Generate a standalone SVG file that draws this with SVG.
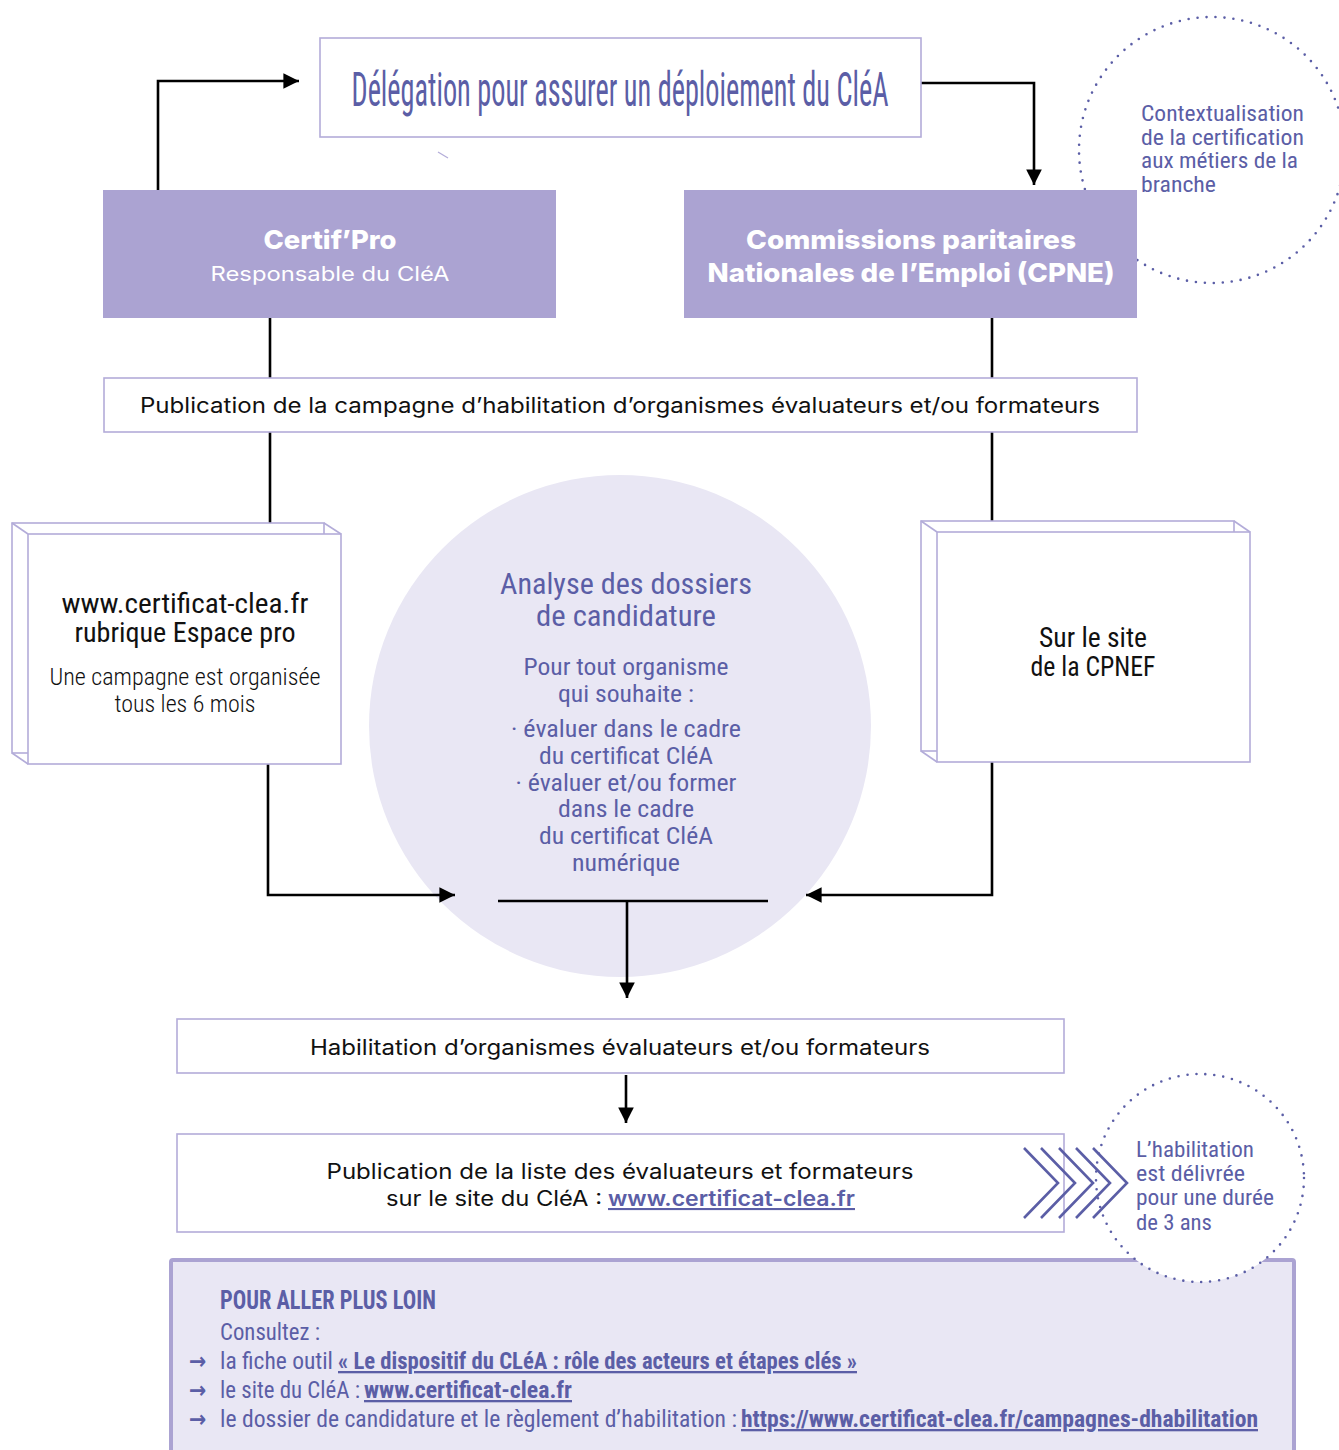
<svg xmlns="http://www.w3.org/2000/svg" width="1339" height="1450" viewBox="0 0 1339 1450">
<defs>
<style>
.cd{font-family:"Roboto Condensed","DejaVu Sans Condensed",Roboto,"Liberation Sans",sans-serif;}
.gs{font-family:Inter,"Open Sans","Liberation Sans",sans-serif;}
.pu{fill:#5b5ea6;}
.bk{fill:#111;}
.wh{fill:#fff;}
.box{fill:#fff;stroke:#b3acd9;stroke-width:1.6;}
.lav{fill:#aba3d2;}
.con{fill:none;stroke:#000;stroke-width:2.6;}
.dots{fill:#fff;stroke:#5b5ea6;stroke-width:2.6;stroke-linecap:round;stroke-dasharray:0 9;}
.chev{fill:none;stroke:#5b5ea6;stroke-width:2.6;}
</style>
<marker id="ah" viewBox="0 0 10 10" refX="10" refY="5" markerWidth="7" markerHeight="6" markerUnits="strokeWidth" orient="auto">
<path d="M0,0 L10,5 L0,10 z" fill="#000"/>
</marker>
</defs>
<rect width="1339" height="1450" fill="#fff"/>

<g id="note-contextualisation">
<circle class="dots" cx="1212" cy="150" r="133"/>
<text class="cd pu" font-size="22"><tspan x="1141" y="121" textLength="163" lengthAdjust="spacingAndGlyphs">Contextualisation</tspan><tspan x="1141" y="145" textLength="163" lengthAdjust="spacingAndGlyphs">de la certification</tspan><tspan x="1141" y="168" textLength="157" lengthAdjust="spacingAndGlyphs">aux métiers de la</tspan><tspan x="1141" y="192" textLength="75" lengthAdjust="spacingAndGlyphs">branche</tspan></text>
</g>

<g id="analyse">
<circle cx="620" cy="726" r="251" fill="#e9e7f4"/>
<g class="cd pu" text-anchor="middle">
<text x="626" y="594" font-size="30" textLength="252" lengthAdjust="spacingAndGlyphs">Analyse des dossiers</text>
<text x="626" y="626" font-size="30" textLength="180" lengthAdjust="spacingAndGlyphs">de candidature</text>
<text x="626" y="675" font-size="24.5" textLength="205" lengthAdjust="spacingAndGlyphs">Pour tout organisme</text>
<text x="626" y="702" font-size="24.5" textLength="136" lengthAdjust="spacingAndGlyphs">qui souhaite :</text>
<text x="626" y="737" font-size="24.5" textLength="230" lengthAdjust="spacingAndGlyphs">· évaluer dans le cadre</text>
<text x="626" y="764" font-size="24.5" textLength="174" lengthAdjust="spacingAndGlyphs">du certificat CléA</text>
<text x="626" y="791" font-size="24.5" textLength="221" lengthAdjust="spacingAndGlyphs">· évaluer et/ou former</text>
<text x="626" y="817" font-size="24.5" textLength="136" lengthAdjust="spacingAndGlyphs">dans le cadre</text>
<text x="626" y="844" font-size="24.5" textLength="174" lengthAdjust="spacingAndGlyphs">du certificat CléA</text>
<text x="626" y="871" font-size="24.5" textLength="108" lengthAdjust="spacingAndGlyphs">numérique</text>
</g>
</g>

<g id="connectors">
<polyline class="con" points="158,190 158,81 299,81" marker-end="url(#ah)"/>
<polyline class="con" points="921,83 1034,83 1034,185" marker-end="url(#ah)"/>
<line class="con" x1="270" y1="318" x2="270" y2="378"/>
<line class="con" x1="270" y1="432" x2="270" y2="534"/>
<line class="con" x1="992" y1="318" x2="992" y2="378"/>
<line class="con" x1="992" y1="432" x2="992" y2="532"/>
<polyline class="con" points="268,764 268,895 455,895" marker-end="url(#ah)"/>
<polyline class="con" points="992,762 992,895 806,895" marker-end="url(#ah)"/>
<line class="con" x1="498" y1="901" x2="768" y2="901"/>
<line class="con" x1="627" y1="901" x2="627" y2="998" marker-end="url(#ah)"/>
<line class="con" x1="626" y1="1075" x2="626" y2="1123" marker-end="url(#ah)"/>
<line x1="438" y1="152" x2="448" y2="158" stroke="#b3acd9" stroke-width="1.2"/>
</g>

<g id="delegation">
<rect class="box" x="320" y="38" width="601" height="99"/>
<text class="cd pu" x="620" y="106" font-size="48" text-anchor="middle" textLength="537" lengthAdjust="spacingAndGlyphs">Délégation pour assurer un déploiement du CléA</text>
</g>

<g id="certifpro">
<rect class="lav" x="103" y="190" width="453" height="128"/>
<text class="gs wh" x="330" y="249" font-size="26" font-weight="800" text-anchor="middle" textLength="133" lengthAdjust="spacingAndGlyphs">Certif’Pro</text>
<text class="gs wh" x="330" y="281" font-size="20" text-anchor="middle" textLength="239" lengthAdjust="spacingAndGlyphs">Responsable du CléA</text>
</g>

<g id="cpne">
<rect class="lav" x="684" y="190" width="453" height="128"/>
<text class="gs wh" x="911" y="249" font-size="26" font-weight="800" text-anchor="middle" textLength="330" lengthAdjust="spacingAndGlyphs">Commissions paritaires</text>
<text class="gs wh" x="911" y="282" font-size="26" font-weight="800" text-anchor="middle" textLength="407" lengthAdjust="spacingAndGlyphs">Nationales de l’Emploi (CPNE)</text>
</g>

<g id="publication-campagne">
<rect class="box" x="104" y="378" width="1033" height="54"/>
<text class="gs bk" x="620" y="413" font-size="21" text-anchor="middle" textLength="960" lengthAdjust="spacingAndGlyphs">Publication de la campagne d’habilitation d’organismes évaluateurs et/ou formateurs</text>
</g>

<g id="site-clea">
<rect class="box" x="12" y="523" width="312" height="230"/>
<rect class="box" x="28" y="534" width="313" height="230"/>
<line x1="12" y1="523" x2="28" y2="534" stroke="#b3acd9" stroke-width="1.6"/>
<line x1="324" y1="523" x2="341" y2="534" stroke="#b3acd9" stroke-width="1.6"/>
<line x1="12" y1="753" x2="28" y2="764" stroke="#b3acd9" stroke-width="1.6"/>
<g class="cd bk" text-anchor="middle">
<text x="185" y="613" font-size="27" textLength="247" lengthAdjust="spacingAndGlyphs">www.certificat-clea.fr</text>
<text x="185" y="642" font-size="27" textLength="221" lengthAdjust="spacingAndGlyphs">rubrique Espace pro</text>
<text x="185" y="685" font-size="24" font-weight="300" textLength="271" lengthAdjust="spacingAndGlyphs">Une campagne est organisée</text>
<text x="185" y="712" font-size="24" font-weight="300" textLength="141" lengthAdjust="spacingAndGlyphs">tous les 6 mois</text>
</g>
</g>

<g id="site-cpnef">
<rect class="box" x="921" y="521" width="313" height="230"/>
<rect class="box" x="937" y="532" width="313" height="230"/>
<line x1="921" y1="521" x2="937" y2="532" stroke="#b3acd9" stroke-width="1.6"/>
<line x1="1234" y1="521" x2="1250" y2="532" stroke="#b3acd9" stroke-width="1.6"/>
<line x1="921" y1="751" x2="937" y2="762" stroke="#b3acd9" stroke-width="1.6"/>
<g class="cd bk" text-anchor="middle">
<text x="1093" y="647" font-size="27" textLength="108" lengthAdjust="spacingAndGlyphs">Sur le site</text>
<text x="1093" y="676" font-size="27" textLength="125" lengthAdjust="spacingAndGlyphs">de la CPNEF</text>
</g>
</g>

<g id="habilitation">
<rect class="box" x="177" y="1019" width="887" height="54"/>
<text class="gs bk" x="620" y="1055" font-size="21" text-anchor="middle" textLength="620" lengthAdjust="spacingAndGlyphs">Habilitation d’organismes évaluateurs et/ou formateurs</text>
</g>

<g id="publication-liste">
<rect class="box" x="177" y="1134" width="887" height="98"/>
<text class="gs bk" x="620" y="1179" font-size="21" text-anchor="middle" textLength="587" lengthAdjust="spacingAndGlyphs">Publication de la liste des évaluateurs et formateurs</text>
<text class="gs bk" x="386" y="1206" font-size="21" textLength="216" lengthAdjust="spacingAndGlyphs">sur le site du CléA :</text>
<text class="gs pu" x="608" y="1206" font-size="21" font-weight="600" text-decoration="underline" textLength="247" lengthAdjust="spacingAndGlyphs">www.certificat-clea.fr</text>
</g>

<g id="plus-loin">
<rect x="171" y="1260" width="1123" height="200" fill="#e9e7f4" stroke="#aba3d2" stroke-width="4" rx="2"/>
<text class="cd pu" x="220" y="1309" font-size="26" font-weight="bold" textLength="216" lengthAdjust="spacingAndGlyphs">POUR ALLER PLUS LOIN</text>
<text class="cd pu" x="220" y="1340" font-size="23" textLength="100" lengthAdjust="spacingAndGlyphs">Consultez :</text>
<g class="cd pu" font-size="23">
<text x="189" y="1369" font-weight="bold">→</text>
<text x="220" y="1369" textLength="113" lengthAdjust="spacingAndGlyphs">la fiche outil</text>
<text x="338" y="1369" font-weight="bold" text-decoration="underline" textLength="519" lengthAdjust="spacingAndGlyphs">« Le dispositif du CLéA : rôle des acteurs et étapes clés »</text>
<text x="189" y="1398" font-weight="bold">→</text>
<text x="220" y="1398" textLength="140" lengthAdjust="spacingAndGlyphs">le site du CléA :</text>
<text x="364" y="1398" font-weight="bold" text-decoration="underline" textLength="208" lengthAdjust="spacingAndGlyphs">www.certificat-clea.fr</text>
<text x="189" y="1427" font-weight="bold">→</text>
<text x="220" y="1427" textLength="517" lengthAdjust="spacingAndGlyphs">le dossier de candidature et le règlement d’habilitation :</text>
<text x="741" y="1427" font-weight="bold" text-decoration="underline" textLength="517" lengthAdjust="spacingAndGlyphs">https://www.certificat-clea.fr/campagnes-dhabilitation</text>
</g>
</g>

<g id="note-duree">
<circle class="dots" cx="1200" cy="1178" r="104"/>
<text class="cd pu" font-size="22"><tspan x="1136" y="1157" textLength="118" lengthAdjust="spacingAndGlyphs">L’habilitation</tspan><tspan x="1136" y="1181" textLength="109" lengthAdjust="spacingAndGlyphs">est délivrée</tspan><tspan x="1136" y="1205" textLength="138" lengthAdjust="spacingAndGlyphs">pour une durée</tspan><tspan x="1136" y="1230" textLength="76" lengthAdjust="spacingAndGlyphs">de 3 ans</tspan></text>
</g>

<g id="chevrons">
<polyline class="chev" points="1024,1148 1058,1183 1024,1218"/>
<polyline class="chev" points="1041,1148 1075,1183 1041,1218"/>
<polyline class="chev" points="1059,1148 1093,1183 1059,1218"/>
<polyline class="chev" points="1076,1148 1110,1183 1076,1218"/>
<polyline class="chev" points="1093,1148 1127,1183 1093,1218"/>
</g>
</svg>
